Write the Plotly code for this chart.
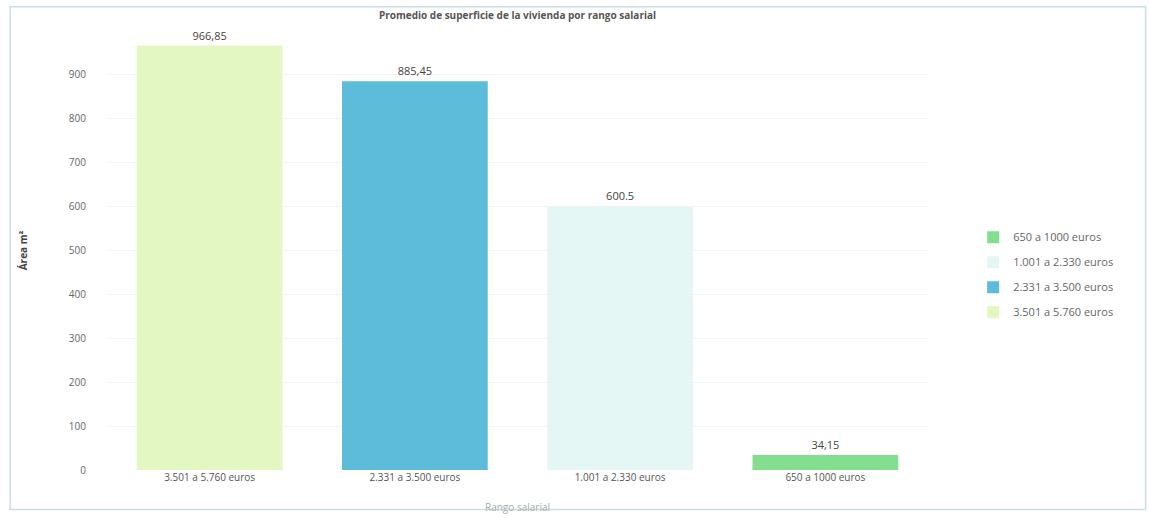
import plotly.graph_objects as go

categories = ["3.501 a 5.760 euros", "2.331 a 3.500 euros", "1.001 a 2.330 euros", "650 a 1000 euros"]
values = [966.85, 885.45, 600.5, 34.15]
value_labels = ["966,85", "885,45", "600.5", "34,15"]
colors = ["#e3f7c2", "#5cbcd9", "#e4f7f5", "#84de90"]
y_ticks = [0, 100, 200, 300, 400, 500, 600, 700, 800, 900]

fig = go.Figure()
# Added in reverse so the legend lists the lowest range first
for cat, val, lab, col in reversed(list(zip(categories, values, value_labels, colors))):
    fig.add_trace(go.Bar(
        x=[cat], y=[val], name=cat, text=[lab], textposition="outside",
        legendgroup=cat,
        marker=dict(color=col, line=dict(width=0)),
        textfont=dict(size=11, color="#444"), cliponaxis=False,
    ))

fig.update_layout(
    width=1149, height=519,
    margin=dict(l=107, r=221, t=31, b=49),
    paper_bgcolor="white", plot_bgcolor="white",
    barmode="relative", bargap=0.29,
    font=dict(family="Open Sans, DejaVu Sans, sans-serif", color="#555"),
    title=dict(text="<b>Promedio de superficie de la vivienda por rango salarial</b>",
               x=0.5, xref="paper", y=0.97, yanchor="middle",
               font=dict(size=10, color="#555")),
    showlegend=True,
    legend=dict(x=1.055, y=0.445, xanchor="left", yanchor="middle",
                traceorder="grouped", font=dict(size=11, color="#666"),
                itemwidth=30, tracegroupgap=6),
    xaxis=dict(showgrid=False, showline=False, ticks="", automargin=False,
               categoryorder="array", categoryarray=categories,
               tickfont=dict(size=10, color="#555"),
               title=dict(text="Rango salarial", font=dict(size=10, color="#aaa"), standoff=20)),
    yaxis=dict(range=[0, 1000], tickvals=y_ticks, showgrid=True, gridcolor="#f4f4f4",
               zeroline=False, showline=False, ticks="", automargin=False,
               tickfont=dict(size=10, color="#666"), ticklabelstandoff=20,
               title=dict(text="<b>Área m²</b>", font=dict(size=10, color="#444"), standoff=39)),
)

fig.add_shape(type="rect", xref="paper", yref="paper", x0=-0.118, x1=1.265, y0=-0.09, y1=1.055,
              line=dict(color="#c9dde3", width=1.5), layer="below")

fig.write_html("out.html")
